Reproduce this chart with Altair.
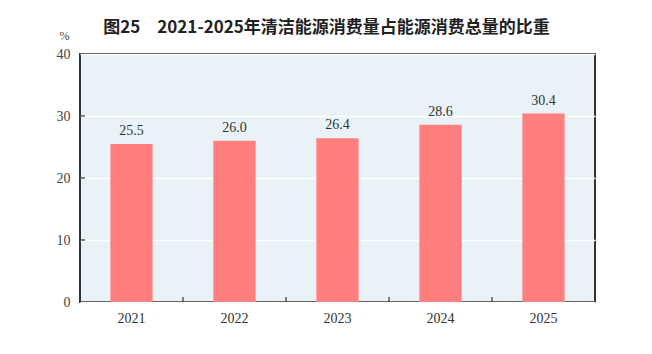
import altair as alt
import pandas as pd

years = ["2021", "2022", "2023", "2024", "2025"]
shares = [25.5, 26.0, 26.4, 28.6, 30.4]
labels = ["25.5", "26.0", "26.4", "28.6", "30.4"]
y_ticks = [10, 20, 30]
x_boundaries = ["2022", "2023", "2024", "2025"]

df = pd.DataFrame({"year": years, "share": shares, "label": labels})
df_yt = pd.DataFrame({"v": y_ticks})
df_xt = pd.DataFrame({"year": x_boundaries})

serif = "Liberation Serif"
W, H = 515, 248

xenc = alt.X("year:N", sort=years,
             scale=alt.Scale(paddingInner=0.59, paddingOuter=0.295),
             axis=alt.Axis(title=None, labelAngle=0, ticks=False, domain=False,
                           labelFont=serif, labelFontSize=14, labelColor="#333333",
                           labelPadding=9))
yenc = alt.Y("share:Q", scale=alt.Scale(domain=[0, 40]),
             axis=alt.Axis(values=[0, 10, 20, 30, 40], ticks=False, domain=False,
                           grid=True, gridColor="#ffffff", gridWidth=1.5,
                           labelFont=serif, labelFontSize=14, labelColor="#444444",
                           labelPadding=10, title="%", titleAngle=0,
                           titleFont=serif, titleFontSize=12, titleFontWeight="normal",
                           titleColor="#444444", titleX=-16, titleY=-12))

bars = alt.Chart(df).mark_bar(color="#FF7F7F").encode(x=xenc, y=yenc)
text = alt.Chart(df).mark_text(baseline="bottom", dy=-6, font=serif, fontSize=14,
                               color="#333333").encode(
    x=alt.X("year:N", sort=years), y="share:Q", text="label:N")
yt = alt.Chart(df_yt).mark_rule(color="#333333", strokeWidth=1.2).encode(
    y=alt.Y("v:Q"), x=alt.value(0), x2=alt.value(5))
xt = alt.Chart(df_xt).mark_rule(color="#333333", strokeWidth=1.2, xOffset=-51.5).encode(
    x=alt.X("year:N", sort=years), y=alt.value(H), y2=alt.value(H - 5))

chart = alt.layer(bars, text, yt, xt).properties(
    width=W, height=H,
    autosize=alt.AutoSizeParams(type="none"),
    padding={"left": 80, "top": 54, "right": 57, "bottom": 52},
    title=alt.TitleParams("图25　2021-2025年清洁能源消费量占能源消费总量的比重",
                          font="Noto Sans CJK SC", fontSize=17, fontWeight="bold",
                          color="#222222", anchor="middle", dx=-11, dy=24, offset=16),
).configure_view(
    fill="#E9F3F7", stroke="#333333", strokeWidth=2
)

chart.save("out.html", embed_options={"renderer": "svg", "actions": False})
